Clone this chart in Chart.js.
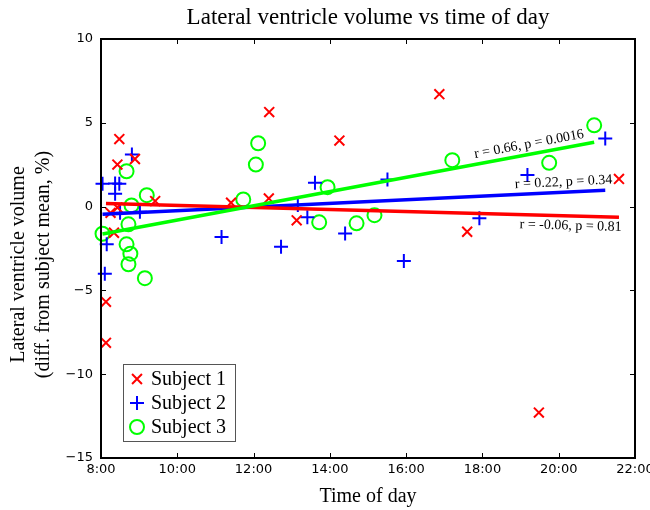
<!DOCTYPE html>
<html>
<head>
<meta charset="utf-8">
<script src="https://cdn.jsdelivr.net/npm/chart.js@4.4.1/dist/chart.umd.min.js"></script>
<style>
  html, body { margin: 0; padding: 0; background: #fff; }
  #wrap { width: 650px; height: 510px; }
</style>
</head>
<body>
<div id="wrap"><canvas id="chart"></canvas></div>
<script>
// hours of day (decimal) and volume differences (%)
const subject1Hours  = [8.13, 8.13, 8.48, 8.43, 8.89, 8.25, 8.43, 8.34, 9.42, 11.41, 12.41, 12.40, 13.13, 14.25, 16.87, 17.60, 19.48, 21.58];
const subject1Values = [-5.68, -8.13, 4.03, 2.51, 2.84, -0.37, -0.06, -1.56, 0.33, 0.23, 5.64, 0.49, -0.82, 3.94, 6.71, -1.50, -12.29, 1.65];

const subject2Hours  = [8.04, 8.37, 8.48, 8.37, 8.81, 8.15, 8.10, 9.02, 8.50, 11.16, 12.72, 13.61, 13.41, 13.16, 14.40, 15.94, 15.51, 17.92, 19.18, 21.22];
const subject2Values = [1.36, 1.38, 1.36, 0.76, 3.11, -2.25, -4.00, -0.31, -0.37, -1.82, -2.39, 1.42, -0.63, 0.09, -1.60, -3.24, 1.62, -0.70, 1.88, 4.06];

const subject3Hours  = [8.04, 8.67, 9.20, 8.80, 8.72, 8.67, 8.77, 8.72, 9.15, 12.12, 12.06, 11.73, 13.72, 13.94, 14.70, 15.17, 17.21, 19.75, 20.93];
const subject3Values = [-1.62, 2.11, 0.68, 0.07, -1.06, -2.25, -2.81, -3.44, -4.27, 3.78, 2.51, 0.43, -0.94, 1.16, -1.00, -0.51, 2.77, 2.61, 4.85];

// regression lines (end points)
const fit1Hours = [8.13, 21.58];
const fit1Values = [0.19, -0.63];
const fit2Hours = [8.04, 21.22];
const fit2Values = [-0.46, 0.98];
const fit3Hours = [8.04, 20.93];
const fit3Values = [-1.64, 3.84];

const fitLabels = ['r = -0.06, p = 0.81', 'r = 0.22, p = 0.34', 'r = 0.66, p = 0.0016'];
const fitLabelHours = [20.32, 20.14, 19.27];
const fitLabelSide = [-1, 1, 1];

const seriesNames = ['Subject 1', 'Subject 2', 'Subject 3'];
const seriesColors = ['#ff0000', '#0000ff', '#00ff00'];
const seriesMarkers = ['crossRot', 'cross', 'circle'];

const chartTitle = 'Lateral ventricle volume vs time of day';
const yTitleLines = ['Lateral ventricle volume', '(diff. from subject mean, %)'];

const toPoints = (xs, ys) => xs.map((x, i) => ({ x: x, y: ys[i] }));

const serif = "'Liberation Serif', 'Times New Roman', serif";
const sans = "'DejaVu Sans', sans-serif";

const scatterSet = (i, xs, ys) => ({
  label: seriesNames[i],
  data: toPoints(xs, ys),
  pointStyle: seriesMarkers[i],
  pointRadius: 7,
  pointHoverRadius: 7,
  pointBorderWidth: 2,
  pointHoverBorderWidth: 2,
  borderColor: seriesColors[i],
  backgroundColor: 'rgba(0,0,0,0)',
  showLine: false,
  clip: false,
  order: 2,
  isSubject: true
});

const fitSet = (i, xs, ys, order) => ({
  label: 'fit ' + seriesNames[i],
  data: toPoints(xs, ys),
  showLine: true,
  pointRadius: 0,
  pointHoverRadius: 0,
  borderColor: seriesColors[i],
  borderWidth: 3.5,
  fill: false,
  order: order,
  fitIndex: i
});

// title centred over the plot box, y title sits a bit below the box centre
const titlesPlugin = {
  id: 'titles',
  afterDraw(chart) {
    const { ctx, chartArea: a } = chart;
    ctx.save();
    ctx.fillStyle = '#000';
    ctx.textAlign = 'center';
    ctx.textBaseline = 'middle';
    ctx.font = '23px ' + serif;
    ctx.fillText(chartTitle, (a.left + a.right) / 2, 18);
    ctx.font = '20px ' + serif;
    const cy = (a.top + a.bottom) / 2 + 16;
    yTitleLines.forEach((line, k) => {
      ctx.save();
      ctx.translate(19 + k * 25, cy);
      ctx.rotate(-Math.PI / 2);
      ctx.fillText(line, 0, 0);
      ctx.restore();
    });
    ctx.restore();
  }
};

// box with inward ticks on all four sides
const framePlugin = {
  id: 'frame',
  afterDatasetsDraw(chart) {
    const { ctx, chartArea: a, scales } = chart;
    ctx.save();
    ctx.strokeStyle = '#000';
    ctx.lineWidth = 1;
    const len = 5;
    ctx.beginPath();
    scales.x.ticks.forEach(t => {
      const px = Math.round(scales.x.getPixelForValue(t.value)) + 0.5;
      if (px <= a.left + 1 || px >= a.right - 1) return;
      ctx.moveTo(px, a.bottom); ctx.lineTo(px, a.bottom - len);
      ctx.moveTo(px, a.top); ctx.lineTo(px, a.top + len);
    });
    scales.y.ticks.forEach(t => {
      const py = Math.round(scales.y.getPixelForValue(t.value)) + 0.5;
      if (py <= a.top + 1 || py >= a.bottom - 1) return;
      ctx.moveTo(a.left, py); ctx.lineTo(a.left + len, py);
      ctx.moveTo(a.right, py); ctx.lineTo(a.right - len, py);
    });
    ctx.stroke();
    ctx.lineWidth = 2;
    ctx.strokeRect(a.left, a.top, a.right - a.left, a.bottom - a.top);
    ctx.restore();
  }
};

// r / p labels written along each fit line
const fitLabelPlugin = {
  id: 'fitLabels',
  afterDatasetsDraw(chart) {
    const { ctx, scales } = chart;
    ctx.save();
    ctx.font = '14px ' + serif;
    ctx.fillStyle = '#000';
    ctx.textAlign = 'center';
    ctx.textBaseline = 'middle';
    chart.data.datasets.forEach(ds => {
      if (ds.fitIndex === undefined) return;
      const i = ds.fitIndex;
      const p0 = ds.data[0], p1 = ds.data[1];
      const x0 = scales.x.getPixelForValue(p0.x), y0 = scales.y.getPixelForValue(p0.y);
      const x1 = scales.x.getPixelForValue(p1.x), y1 = scales.y.getPixelForValue(p1.y);
      const ang = Math.atan2(y1 - y0, x1 - x0);
      const ax = scales.x.getPixelForValue(fitLabelHours[i]);
      const ay = y0 + (ax - x0) * (y1 - y0) / (x1 - x0);
      const off = 10 * fitLabelSide[i];
      const tx = ax + off * Math.sin(ang);
      const ty = ay - off * Math.cos(ang);
      ctx.save();
      ctx.translate(tx, ty);
      ctx.rotate(ang);
      ctx.fillText(fitLabels[i], 0, 0);
      ctx.restore();
    });
    ctx.restore();
  }
};

const drawMarker = (ctx, style, x, y, r) => {
  ctx.beginPath();
  if (style === 'crossRot') {
    const d = r * Math.SQRT1_2;
    ctx.moveTo(x - d, y - d); ctx.lineTo(x + d, y + d);
    ctx.moveTo(x + d, y - d); ctx.lineTo(x - d, y + d);
  } else if (style === 'cross') {
    ctx.moveTo(x - r, y); ctx.lineTo(x + r, y);
    ctx.moveTo(x, y - r); ctx.lineTo(x, y + r);
  } else {
    ctx.arc(x, y, r, 0, Math.PI * 2);
  }
  ctx.stroke();
};

// legend box inside the lower left corner of the plot
const boxLegendPlugin = {
  id: 'boxLegend',
  afterDraw(chart) {
    const { ctx, chartArea: a } = chart;
    const items = chart.data.datasets.filter(d => d.isSubject);
    const rowH = 24;
    const w = 112, h = 77;
    const left = a.left + 22, top = a.bottom - 17 - h;
    ctx.save();
    ctx.fillStyle = '#fff';
    ctx.fillRect(left, top, w, h);
    ctx.strokeStyle = '#555';
    ctx.lineWidth = 1;
    ctx.strokeRect(left + 0.5, top + 0.5, w, h);
    ctx.font = '20px ' + serif;
    ctx.textBaseline = 'middle';
    ctx.textAlign = 'left';
    items.forEach((d, k) => {
      const cy = top + 15 + k * rowH;
      ctx.strokeStyle = d.borderColor;
      ctx.lineWidth = 2;
      drawMarker(ctx, d.pointStyle, left + 14, cy, 7);
      ctx.fillStyle = '#000';
      ctx.fillText(d.label, left + 28, cy + 1);
    });
    ctx.restore();
  }
};

new Chart(document.getElementById('chart'), {
  type: 'scatter',
  data: {
    datasets: [
      scatterSet(0, subject1Hours, subject1Values),
      scatterSet(1, subject2Hours, subject2Values),
      scatterSet(2, subject3Hours, subject3Values),
      fitSet(0, fit1Hours, fit1Values, 1),
      fitSet(1, fit2Hours, fit2Values, 1),
      fitSet(2, fit3Hours, fit3Values, 0)
    ]
  },
  options: {
    responsive: true,
    maintainAspectRatio: false,
    animation: false,
    layout: { padding: { left: 0, right: 15, top: 39, bottom: 0 } },
    plugins: {
      legend: { display: false },
      tooltip: { enabled: false },
      title: { display: false }
    },
    scales: {
      x: {
        type: 'linear',
        min: 8,
        max: 22,
        grid: { display: false, drawTicks: false },
        border: { display: false },
        ticks: {
          stepSize: 2,
          padding: 4,
          color: '#000',
          font: { family: sans, size: 13 },
          maxRotation: 0,
          callback: v => v + ':00'
        },
        title: {
          display: true,
          text: 'Time of day',
          color: '#000',
          font: { family: serif, size: 20, lineHeight: 1.2 },
          padding: { top: 0, bottom: 1 }
        },
        afterFit: s => { s.height = 52; s.paddingLeft = 0; s.paddingRight = 0; }
      },
      y: {
        min: -15,
        max: 10,
        grid: { display: false, drawTicks: false },
        border: { display: false },
        ticks: {
          stepSize: 5,
          padding: 8,
          color: '#000',
          font: { family: sans, size: 13 },
          callback: v => String(v).replace('-', '\u2212')
        },
        title: { display: false },
        afterFit: s => { s.width = 101; s.paddingTop = 0; s.paddingBottom = 0; }
      }
    }
  },
  plugins: [framePlugin, fitLabelPlugin, boxLegendPlugin, titlesPlugin]
});
</script>
</body>
</html>
